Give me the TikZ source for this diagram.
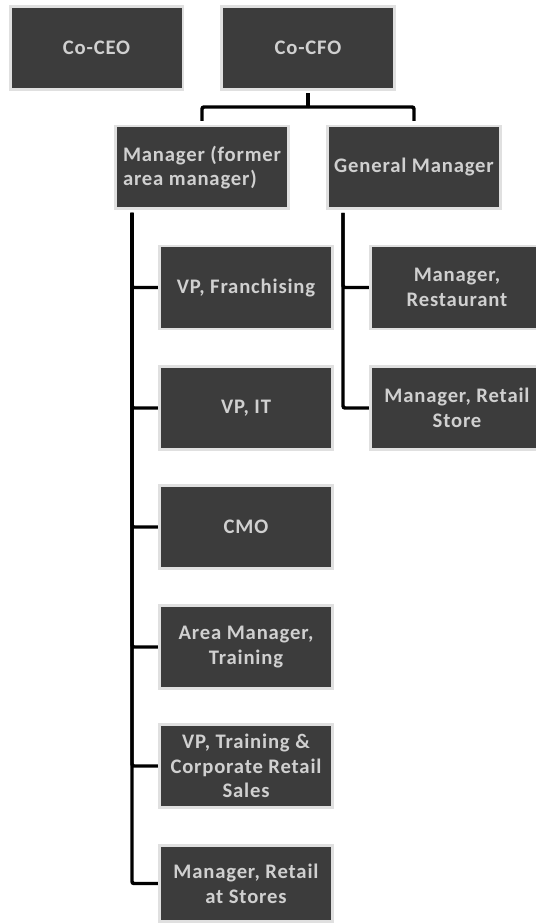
\documentclass[tikz,border=0pt]{standalone}
\usepackage{fontspec}
\setmainfont{Carlito}[LetterSpace=4]
\definecolor{boxfill}{RGB}{60,60,60}
\definecolor{boxtext}{RGB}{208,208,208}

\tikzset{every picture/.style={line width=0.75pt}}
\tikzset{
  orgbox/.style={rectangle, fill=boxfill, text=boxtext, align=center,
    minimum width=127.5pt, minimum height=60pt, inner sep=1pt,
    font=\fontsize{15.5}{18.5}\selectfont\bfseries,
    preaction={draw=black!12, line width=4pt}},
  link/.style={draw=black, line width=2.6pt, rounded corners=1.5pt}
}

\begin{document}
\begin{tikzpicture}[x=0.75pt,y=0.75pt,yscale=-1,xscale=1]
\useasboundingbox (0,0) rectangle (535,923);

% Top row
\node [orgbox] (ceo) at (96.5,48) {Co-CEO};
\node [orgbox] (cfo) at (308,48) {Co-CFO};

% Second row
\node [orgbox, align=left] (mgr) at (202,167.5) {Manager (former\\area manager)};
\node [orgbox] (gm) at (414,167.5) {General Manager};

% Left column
\node [orgbox] (vpf) at (246,287.5) {VP, Franchising};
\node [orgbox] (vpit) at (246,408) {VP, IT};
\node [orgbox] (cmo) at (246,527) {CMO};
\node [orgbox] (area) at (246,647) {Area Manager,\\Training};
\node [orgbox] (vpt) at (246,766) {VP, Training \&\\Corporate Retail\\Sales};
\node [orgbox, minimum height=55pt, font=\fontsize{15.5}{19}\selectfont\bfseries] (mrs) at (246,883.5) {Manager, Retail\\at Stores};

% Right column
\node [orgbox] (mres) at (457,287.5) {Manager,\\Restaurant};
\node [orgbox] (mrst) at (457,408) {Manager, Retail\\Store};

% Fork under Co-CFO
\coordinate (fork) at (308,107);
\draw [link, shorten <=3.75pt] (cfo.south) -- (fork);
\draw [link, shorten >=4.5pt] (fork) -| (mgr.north);
\draw [link, shorten >=4.5pt] (fork) -| (gm.north);

% Spines
\coordinate (mspine) at (132,213);
\coordinate (gspine) at (343,213);
\foreach \n in {vpf,vpit,cmo,area,vpt,mrs}
  \draw [link, shorten >=2pt] (mspine) |- (\n.west);
\foreach \n in {mres,mrst}
  \draw [link, shorten >=2pt] (gspine) |- (\n.west);

\end{tikzpicture}
\end{document}
